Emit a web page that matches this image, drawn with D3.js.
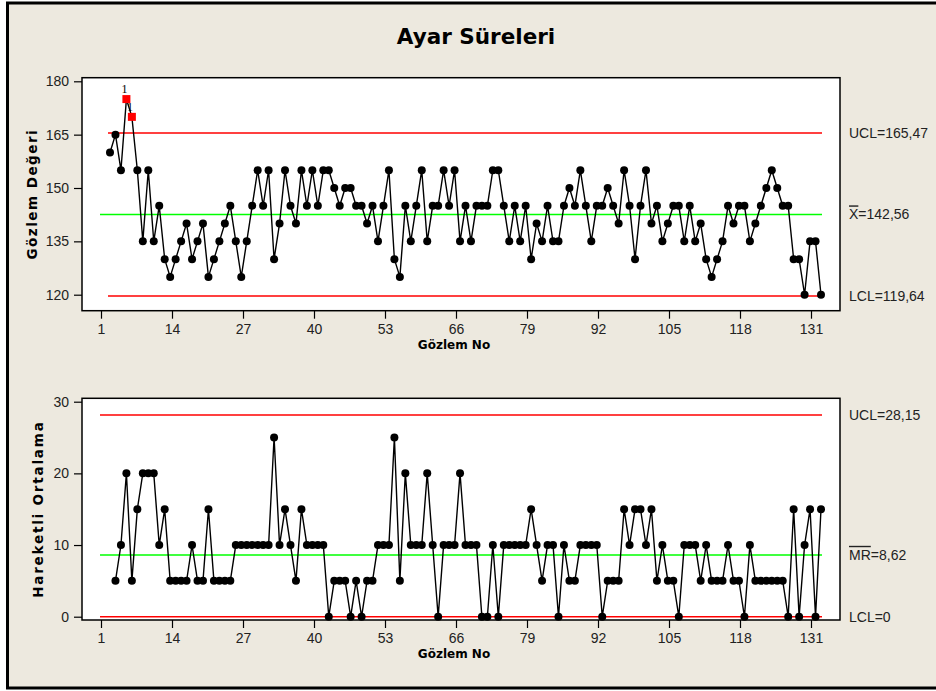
<!DOCTYPE html>
<html>
<head>
<meta charset="utf-8">
<script src="https://cdnjs.cloudflare.com/ajax/libs/d3/7.8.5/d3.min.js"></script>
<style>
  body { margin: 0; background: #fff; }
  svg { display: block; }
</style>
</head>
<body>
<div id="chart"></div>
<script>

// gozlem degerleri (I chart), 131 gozlem
var gozlem = [
    160, 165, 155, 175, 170, 155, 135, 155, 135, 145,
    130, 125, 130, 135, 140, 130, 135, 140, 125, 130,
    135, 140, 145, 135, 125, 135, 145, 155, 145, 155,
    130, 140, 155, 145, 140, 155, 145, 155, 145, 155,
    155, 150, 145, 150, 150, 145, 145, 140, 145, 135,
    145, 155, 130, 125, 145, 135, 145, 155, 135, 145,
    145, 155, 145, 155, 135, 145, 135, 145, 145, 145,
    155, 155, 145, 135, 145, 135, 145, 130, 140, 135,
    145, 135, 135, 145, 150, 145, 155, 145, 135, 145,
    145, 150, 145, 140, 155, 145, 130, 145, 155, 140,
    145, 135, 140, 145, 145, 135, 145, 135, 140, 130,
    125, 130, 135, 145, 140, 145, 145, 135, 140, 145,
    150, 155, 150, 145, 145, 130, 130, 120, 135, 135,
    120
];

// hareketli aralik (MR chart), gozlem 2..131
var hareketli = [
         5, 10, 20,  5, 15, 20, 20, 20, 10,
    15,  5,  5,  5,  5, 10,  5,  5, 15,  5,
     5,  5,  5, 10, 10, 10, 10, 10, 10, 10,
    25, 10, 15, 10,  5, 15, 10, 10, 10, 10,
     0,  5,  5,  5,  0,  5,  0,  5,  5, 10,
    10, 10, 25,  5, 20, 10, 10, 10, 20, 10,
     0, 10, 10, 10, 20, 10, 10, 10,  0,  0,
    10,  0, 10, 10, 10, 10, 10, 15, 10,  5,
    10, 10,  0, 10,  5,  5, 10, 10, 10, 10,
     0,  5,  5,  5, 15, 10, 15, 15, 10, 15,
     5, 10,  5,  5,  0, 10, 10, 10,  5, 10,
     5,  5,  5, 10,  5,  5,  0, 10,  5,  5,
     5,  5,  5,  5,  0, 15,  0, 10, 15,  0,
    15
];

var xTicks = [1, 14, 27, 40, 53, 66, 79, 92, 105, 118, 131];
var iTicks = [120, 135, 150, 165, 180];
var mrTicks = [0, 10, 20, 30];

var iLimitNames = ["UCL", "X", "LCL"];
var iLimits = [165.47, 142.56, 119.64];
var mrLimitNames = ["UCL", "MR", "LCL"];
var mrLimits = [28.15, 8.62, 0];

// test 1 ihlali (kirmizi kare)
var outPoints = [4, 5];

var width = 936;
var height = 691;
var n = gozlem.length;

var svg = d3.select("#chart").append("svg")
    .attr("width", width)
    .attr("height", height);

var bg = svg.append("rect")
    .attr("x", 7.5)
    .attr("y", 3)
    .attr("width", width + 10)
    .attr("height", 685)
    .attr("fill", "#EDE9DF")
    .attr("stroke", "black")
    .attr("stroke-width", 3);

svg.append("text")
    .attr("x", 476)
    .attr("y", 44)
    .attr("text-anchor", "middle")
    .attr("font-family", "DejaVu Sans")
    .attr("font-weight", "bold")
    .attr("font-size", 21.5)
    .text("Ayar Süreleri");

var frameLeft = 82, frameRight = 840;

// noktalar ve eksen etiketleri biraz kaymis, ikisi ayri olcek
var xPoint = d3.scaleLinear().domain([1, n]).range([110, 821]);
var xAxisScale = d3.scaleLinear().domain([1, 131]).range([101, 811]);

function fmt(v) {
    return v % 1 === 0 ? String(v) : d3.format(".2f")(v).replace(".", ",");
}

function drawPanel(p) {
    var g = svg.append("g");

    g.append("rect")
        .attr("x", frameLeft)
        .attr("y", p.top)
        .attr("width", frameRight - frameLeft)
        .attr("height", p.bottom - p.top)
        .attr("fill", "white")
        .attr("stroke", "black")
        .attr("stroke-width", 1.5);

    var yAxis = g.append("g")
        .attr("transform", "translate(" + frameLeft + ",0)")
        .call(d3.axisLeft(p.y).tickValues(p.ticks).tickSize(8).tickPadding(5));

    var xAxis = g.append("g")
        .attr("transform", "translate(0," + p.bottom + ")")
        .call(d3.axisBottom(xAxisScale).tickValues(xTicks).tickSize(8).tickPadding(5));

    [yAxis, xAxis].forEach(function(a) {
        a.select(".domain").remove();
        a.selectAll("line").attr("stroke", "black").attr("stroke-width", 1.2);
        a.selectAll("text")
            .attr("font-family", "Liberation Sans")
            .attr("font-size", 14)
            .attr("fill", "#222");
    });

    g.append("text")
        .attr("x", 454)
        .attr("y", p.bottom + 38)
        .attr("text-anchor", "middle")
        .attr("font-family", "DejaVu Sans")
        .attr("font-weight", "bold")
        .attr("font-size", 12)
        .text("Gözlem No");

    g.append("text")
        .attr("transform", "translate(" + p.titleX + "," + (p.top + p.bottom) / 2 + ") rotate(-90)")
        .attr("text-anchor", "middle")
        .attr("dy", "0.35em")
        .attr("font-family", "DejaVu Sans")
        .attr("font-weight", "bold")
        .attr("font-size", 13.5)
        .attr("letter-spacing", p.spacing)
        .text(p.title);

    // kontrol limitleri
    p.limits.forEach(function(v, i) {
        g.append("line")
            .attr("x1", i === 1 ? 100 : p.limitStart)
            .attr("x2", 822)
            .attr("y1", p.y(v))
            .attr("y2", p.y(v))
            .attr("stroke", i === 1 ? "#00FF00" : "#FF0000")
            .attr("stroke-width", 1.5);

        var t = g.append("text")
            .attr("x", 849)
            .attr("y", p.y(v))
            .attr("dy", "0.35em")
            .attr("font-family", "Liberation Sans")
            .attr("font-size", 14)
            .attr("fill", "#222");
        if (i === 1) {
            t.append("tspan")
                .style("text-decoration", "overline")
                .text(p.names[i]);
            t.append("tspan").text("=" + fmt(v));
        } else {
            t.text(p.names[i] + "=" + fmt(v));
        }
    });

    var pts = p.values.map(function(v, i) { return { obs: i + p.start, v: v }; });

    var line = d3.line()
        .x(function(d) { return xPoint(d.obs); })
        .y(function(d) { return p.y(d.v); });

    g.append("path")
        .datum(pts)
        .attr("d", line)
        .attr("fill", "none")
        .attr("stroke", "black")
        .attr("stroke-width", 1.4);

    var bad = pts.filter(function(d) { return p.out.indexOf(d.obs) >= 0; });
    var good = pts.filter(function(d) { return p.out.indexOf(d.obs) < 0; });

    g.selectAll(".lbl")
        .data(bad)
        .enter().append("text")
        .attr("x", function(d) { return xPoint(d.obs) - 2; })
        .attr("y", function(d) { return p.y(d.v) - 6; })
        .attr("text-anchor", "middle")
        .attr("font-family", "Liberation Serif")
        .attr("font-size", 12)
        .text("1");

    g.selectAll(".dot")
        .data(good)
        .enter().append("circle")
        .attr("cx", function(d) { return xPoint(d.obs); })
        .attr("cy", function(d) { return p.y(d.v); })
        .attr("r", 4)
        .attr("fill", "black");

    g.selectAll(".sq")
        .data(bad)
        .enter().append("rect")
        .attr("x", function(d) { return xPoint(d.obs) - 4; })
        .attr("y", function(d) { return p.y(d.v) - 4; })
        .attr("width", 8)
        .attr("height", 8)
        .attr("fill", "#FF0000");
}

drawPanel({
    top: 77.7,
    bottom: 310.7,
    y: d3.scaleLinear().domain([120, 180]).range([294.7, 81.3]),
    ticks: iTicks,
    values: gozlem,
    start: 1,
    limits: iLimits,
    names: iLimitNames,
    limitStart: 108,
    out: outPoints,
    title: "Gözlem Değeri",
    titleX: 32,
    spacing: 1.5
});

drawPanel({
    top: 398.3,
    bottom: 620,
    y: d3.scaleLinear().domain([0, 30]).range([616.7, 401.7]),
    ticks: mrTicks,
    values: hareketli,
    start: 2,
    limits: mrLimits,
    names: mrLimitNames,
    limitStart: 100,
    out: [],
    title: "Hareketli Ortalama",
    titleX: 38,
    spacing: 1.8
});

</script>
</body>
</html>
